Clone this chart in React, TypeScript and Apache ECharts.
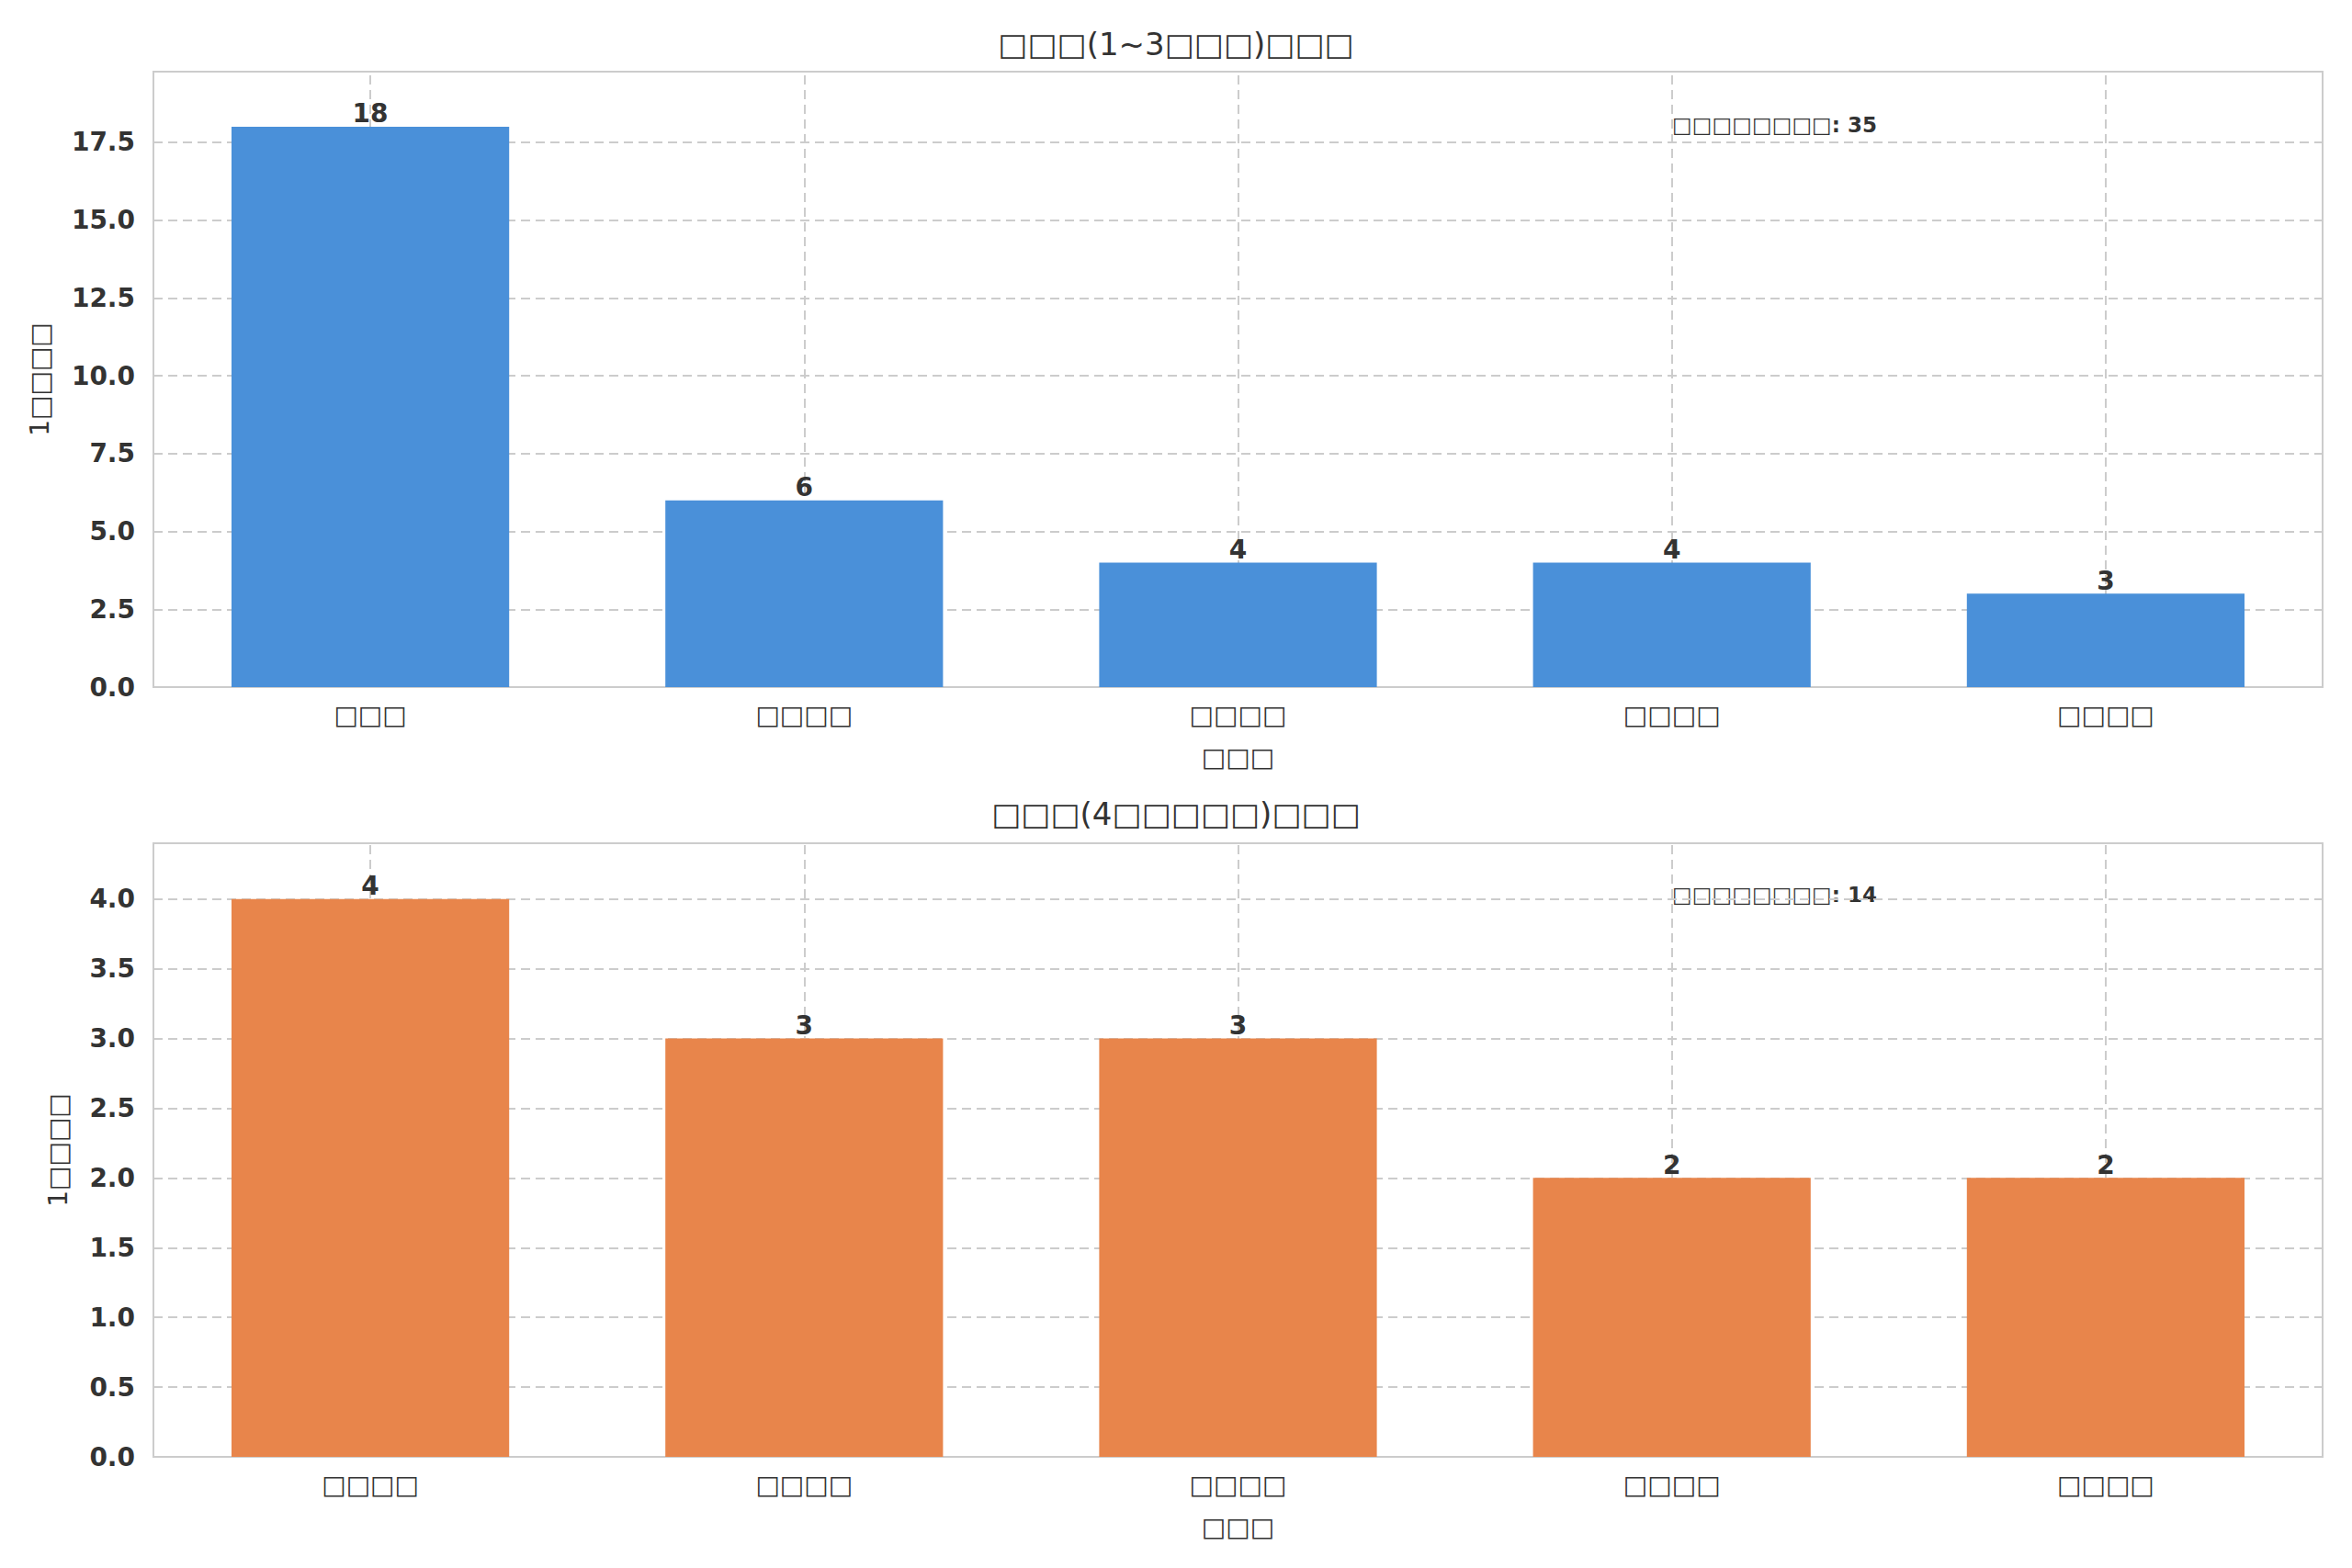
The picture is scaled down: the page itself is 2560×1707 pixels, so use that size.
import React, { useRef, useEffect } from 'react';
import * as echarts from 'echarts';

const topCategories = ['□□□', '□□□□', '□□□□', '□□□□', '□□□□'];
const topValues = [18, 6, 4, 4, 3];
const bottomCategories = ['□□□□', '□□□□', '□□□□', '□□□□', '□□□□'];
const bottomValues = [4, 3, 3, 2, 2];
const topTitle = '□□□(1~3□□□)□□□';
const bottomTitle = '□□□(4□□□□□)□□□';
const topNote = '□□□□□□□□: 35';
const bottomNote = '□□□□□□□□: 14';

const FONT = 'DejaVu Sans';
const gridLine = { color: '#cccccc', type: [10, 6] as any, width: 2 };

const App: React.FC = () => {
  const chartRef = useRef<HTMLDivElement>(null);

  useEffect(() => {
    document.body.style.margin = '0';
    const chart = echarts.init(chartRef.current, null, { renderer: 'svg' });

    const makeX = (gi: number, cats: string[]) => ({
      type: 'category', gridIndex: gi, data: cats,
      name: '□□□', nameLocation: 'middle', nameGap: 62,
      nameTextStyle: { fontFamily: FONT, fontSize: 28, color: '#333' },
      axisLine: { show: false }, axisTick: { show: false },
      axisLabel: { fontFamily: FONT, fontSize: 28, color: '#333', margin: 16 },
      splitLine: { show: false },
    });
    const makeY = (gi: number, max: number, interval: number, gap: number) => ({
      type: 'value', gridIndex: gi, min: 0, max, interval,
      name: '1□□□□', nameLocation: 'middle', nameGap: gap,
      nameTextStyle: { fontFamily: FONT, fontSize: 28, color: '#333' },
      axisLine: { show: false }, axisTick: { show: false },
      axisLabel: {
        fontFamily: FONT, fontSize: 28, fontWeight: 'bold', color: '#333', margin: 20,
        formatter: (v: number) => (Math.abs(v - max) < 1e-9 ? '' : v.toFixed(1)),
      },
      splitLine: { lineStyle: gridLine },
    });
    const makeSeries = (gi: number, vals: number[], color: string) => ({
      type: 'bar', xAxisIndex: gi, yAxisIndex: gi, data: vals, barWidth: '64%',
      itemStyle: { color },
      label: { show: true, position: 'top', distance: 0, fontFamily: FONT, fontSize: 28, fontWeight: 'bold', color: '#333' },
      markLine: {
        silent: true, symbol: 'none', label: { show: false },
        lineStyle: gridLine, z: 0,
        data: vals.map((_, i) => ({ xAxis: i })),
      },
      z: 2,
    });

    chart.setOption({
      animation: false,
      backgroundColor: '#fff',
      title: [
        { text: topTitle, left: 'center', top: 26, textStyle: { fontFamily: FONT, fontSize: 34, fontWeight: 'normal', color: '#333' } },
        { text: bottomTitle, left: 'center', top: 864, textStyle: { fontFamily: FONT, fontSize: 34, fontWeight: 'normal', color: '#333' } },
      ],
      graphic: [
        { type: 'text', left: 1820, top: 124, style: { text: topNote, fontFamily: FONT, fontSize: 23, fontWeight: 'bold', fill: '#333' } },
        { type: 'text', left: 1820, top: 962, style: { text: bottomNote, fontFamily: FONT, fontSize: 23, fontWeight: 'bold', fill: '#333' } },
      ],
      grid: [
        { left: 167, right: 32, top: 78, height: 670, show: true, borderColor: '#cccccc', borderWidth: 2 },
        { left: 167, right: 32, top: 918, height: 668, show: true, borderColor: '#cccccc', borderWidth: 2 },
      ],
      xAxis: [makeX(0, topCategories), makeX(1, bottomCategories)],
      yAxis: [makeY(0, 19.77, 2.5, 110), makeY(1, 4.4, 0.5, 90)],
      series: [makeSeries(0, topValues, '#4a90d9'), makeSeries(1, bottomValues, '#e8854b')],
    });

    return () => chart.dispose();
  }, []);

  return <div ref={chartRef} style={{ width: '2560px', height: '1707px' }} />;
};

export default App;
